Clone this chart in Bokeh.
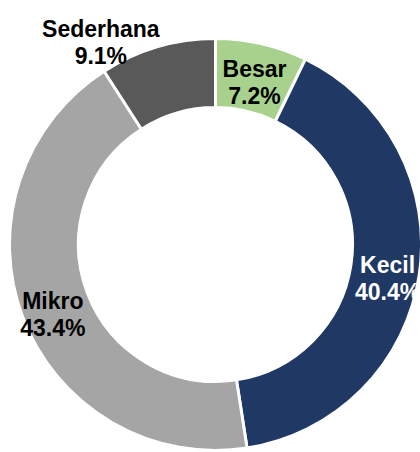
import math
from bokeh.plotting import figure
from bokeh.models import ColumnDataSource, Range1d
from bokeh.core.properties import value
from bokeh.embed import file_html
from bokeh.resources import INLINE

# ---- data ----
categories = ["Besar", "Kecil", "Mikro", "Sederhana"]
shares = [7.2, 40.4, 43.4, 9.1]
pct_labels = ["7.2%", "40.4%", "43.4%", "9.1%"]
colors = ["#A9D18E", "#203864", "#A5A5A5", "#595959"]
label_colors = ["black", "white", "black", "black"]

# ---- layout (pixels) ----
W, H = 420, 452
CX, CY = 215, 208          # donut centre in plot units (1 unit = 1 px)
R_OUT, R_IN = 206, 137
R_LABEL = 174
outside = {"Sederhana": (239, -12.3)}   # (radius, extra clockwise degrees) for outside label

total = sum(shares)
starts, ends, lx, ly = [], [], [], []
cum = 0.0
for cat, s in zip(categories, shares):
    a0 = cum / total
    cum += s
    a1 = cum / total
    starts.append(math.pi / 2 - a0 * 2 * math.pi)
    ends.append(math.pi / 2 - a1 * 2 * math.pi)
    mid = (a0 + a1) / 2 * 360.0
    r = R_LABEL
    if cat in outside:
        r, extra = outside[cat]
        mid += extra
    th = math.radians(mid)
    lx.append(CX + r * math.sin(th))
    ly.append(CY + r * math.cos(th))

src = ColumnDataSource(dict(
    cat=categories, pct=pct_labels, start=starts, end=ends, color=colors,
    lcolor=label_colors, lx=lx, name_y=[y + 5.5 for y in ly],
    pct_y=[y - 21.5 for y in ly],
))

p = figure(width=W, height=H, output_backend="svg", toolbar_location=None,
           x_range=Range1d(0, W), y_range=Range1d(0, H), min_border=0,
           outline_line_color=None, background_fill_color="white",
           border_fill_color="white")
p.axis.visible = False
p.grid.visible = False

p.annular_wedge(x=CX, y=CY, inner_radius=R_IN, outer_radius=R_OUT,
                start_angle="start", end_angle="end", direction="clock",
                fill_color="color", line_color="white", line_width=3,
                source=src)

common = dict(text_font=value("Liberation Sans"), text_font_style="bold",
              text_font_size="23px", text_align="center",
              text_baseline="alphabetic", text_color="lcolor", source=src)
p.text(x="lx", y="name_y", text="cat", **common)
p.text(x="lx", y="pct_y", text="pct", **common)

open("out.html", "w").write(file_html(p, INLINE))
